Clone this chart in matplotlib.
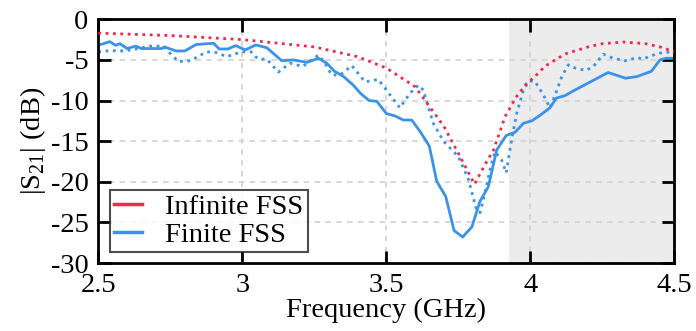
import matplotlib
matplotlib.use('Agg')
import matplotlib.pyplot as plt

plt.rcParams['font.family'] = ['Liberation Serif', 'DejaVu Serif']
plt.rcParams['axes.unicode_minus'] = False
plt.rcParams['mathtext.fontset'] = 'custom'
plt.rcParams['mathtext.rm'] = 'Liberation Serif'

# Infinite FSS (red dotted)
inf_f = [2.5, 2.75, 3.0, 3.25, 3.4, 3.5, 3.6, 3.7, 3.75, 3.806, 3.85, 3.872,
         3.912, 3.95, 3.987, 4.01, 4.05, 4.1, 4.126, 4.2, 4.25, 4.323, 4.4, 4.45, 4.5]
inf_s = [-1.7, -2.0, -2.5, -3.4, -4.6, -6.0, -8.3, -13.2, -16.5, -20.3, -17.4, -16.1,
         -12.0, -9.6, -7.9, -7.25, -5.8, -4.7, -4.2, -3.4, -3.0, -2.8, -3.0, -3.4, -4.0]

# Finite FSS, solid
fin_f = [2.5, 2.54, 2.56, 2.575, 2.6, 2.63, 2.65, 2.72, 2.73, 2.77, 2.8, 2.84, 2.9,
         2.92, 2.95, 2.977, 3.01, 3.047, 3.085, 3.137, 3.177, 3.224, 3.264, 3.293,
         3.32, 3.35, 3.385, 3.41, 3.44, 3.467, 3.5, 3.53, 3.559, 3.588, 3.617,
         3.649, 3.675, 3.706, 3.735, 3.765, 3.797, 3.825, 3.854, 3.883, 3.916,
         3.947, 3.976, 4.005, 4.034, 4.068, 4.09, 4.12, 4.155, 4.27, 4.33, 4.37,
         4.42, 4.45, 4.47, 4.5]
fin_s = [-3.2, -2.75, -3.2, -3.0, -3.6, -3.3, -3.6, -3.6, -3.4, -3.9, -3.9, -3.1, -2.95,
         -3.65, -3.65, -3.24, -3.77, -3.16, -3.5, -5.1, -5.0, -5.3, -4.8, -5.4,
         -6.4, -7.0, -8.1, -9.1, -10.0, -10.1, -11.6, -11.9, -12.4, -12.4, -13.8,
         -15.6, -19.95, -21.8, -26.0, -26.8, -25.55, -22.4, -20.6, -16.1, -14.3,
         -13.9, -12.8, -12.5, -11.8, -10.9, -9.7, -9.4, -8.7, -6.55, -7.25, -7.05,
         -6.4, -5.0, -4.8, -4.8]

# Finite FSS, dotted
fin2_f = [2.5, 2.54, 2.59, 2.64, 2.68, 2.71, 2.73, 2.76, 2.78, 2.82, 2.876, 2.91,
          2.946, 2.998, 3.03, 3.045, 3.06, 3.085, 3.125, 3.166, 3.21, 3.264, 3.287,
          3.31, 3.34, 3.38, 3.426, 3.472, 3.5, 3.547, 3.582, 3.611, 3.628, 3.663,
          3.698, 3.75, 3.785, 3.814, 3.825, 3.837, 3.86, 3.877, 3.9, 3.916, 3.935,
          3.953, 3.976, 3.995, 4.016, 4.045, 4.068, 4.086, 4.109, 4.132, 4.155,
          4.193, 4.219, 4.253, 4.288, 4.329, 4.37, 4.39, 4.427, 4.462, 4.5]
fin2_s = [-4.0, -3.85, -3.9, -3.6, -3.3, -3.3, -3.45, -4.6, -5.2, -5.1, -4.0, -4.1,
          -4.6, -4.0, -4.0, -4.6, -4.9, -4.9, -6.5, -5.4, -5.8, -4.4, -5.4,
          -6.85, -6.85, -5.7, -7.7, -7.4, -8.7, -10.9, -9.1, -8.1, -8.7, -12.8,
          -15.0, -16.9, -19.7, -23.6, -23.8, -22.2, -18.5, -16.3, -17.3, -18.9, -14.8,
          -11.5, -8.7, -7.6, -7.65, -9.3, -10.9, -9.3, -7.05, -5.6, -6.0,
          -6.3, -5.8, -4.3, -4.8, -5.1, -4.7, -4.9, -4.4, -4.05, -4.05]

red = '#f0284a'
blue = '#3a93e8'

fig = plt.figure(figsize=(6.96, 3.31), dpi=100)
ax = fig.add_axes([0.1412, 0.2054, 0.8278, 0.7363])

ax.axvspan(3.927, 4.5, color='#ececec', lw=0, zorder=0)
ax.set_axisbelow(True)
ax.grid(True, ls=(0, (3, 3)), color='#d4d4d4', lw=1.3)

ax.plot(inf_f, inf_s, color=red, ls=':', lw=2.0, label='Infinite FSS', zorder=3)
ax.plot(fin_f, fin_s, color=blue, lw=2.0, label='Finite FSS', zorder=2)
ax.plot(fin2_f, fin2_s, color=blue, ls=':', lw=2.0, zorder=2)

ax.set_xlim(2.5, 4.5)
ax.set_ylim(-30, 0)
ax.set_xticks([2.5, 3, 3.5, 4, 4.5])
ax.set_xticklabels(['2.5', '3', '3.5', '4', '4.5'])
ax.set_yticks([0, -5, -10, -15, -20, -25, -30])
ax.set_yticklabels(['0', '-5', '-10', '-15', '-20', '-25', '-30'])
ax.tick_params(direction='in', length=9, width=2, labelsize=20.5, top=True, right=True, pad=7)
for s in ax.spines.values():
    s.set_linewidth(2)

ax.set_xlabel('Frequency (GHz)', fontsize=20.5, labelpad=0)
ax.set_ylabel('|S$_{21}$| (dB)', fontsize=20.5, labelpad=2)

leg = ax.legend(loc='lower left', bbox_to_anchor=(0.005, 0.01), fontsize=20.5,
                frameon=True, fancybox=False, edgecolor='#222222',
                handlelength=1.0, handletextpad=0.8, borderpad=0.15,
                labelspacing=0.05, borderaxespad=0.3)
leg.get_frame().set_linewidth(1.5)
for h in leg.get_lines():
    h.set_linestyle('-')
    h.set_linewidth(2.5)

fig.savefig('out.png', dpi=100)
